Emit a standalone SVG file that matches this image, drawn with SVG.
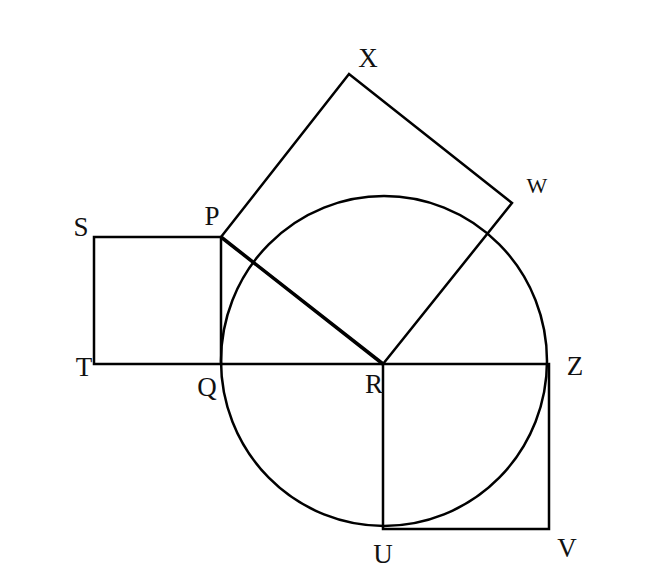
<svg xmlns="http://www.w3.org/2000/svg" width="653" height="579" viewBox="0 0 653 579">
<style>
.l{fill:none;stroke:#000;stroke-width:2.5;stroke-linejoin:miter}
.t{font-family:"Liberation Serif","Times New Roman",serif;font-size:27px;fill:#111;text-anchor:middle}
</style>
<rect width="653" height="579" fill="#fff"/>
<g id="circle"><ellipse class="l" cx="384" cy="361" rx="163" ry="165"/></g>
<g id="square-PQTS"><polygon class="l" points="94,237 221,237 221,364 94,364"/></g>
<g id="square-PRWX"><polygon class="l" points="221,237 349,74 512,203 383,364"/></g>
<g id="square-RZVU"><polygon class="l" points="383,364 549,364 549,529 383,529"/></g>
<g id="connectors">
<line class="l" x1="221" y1="364" x2="383" y2="364"/>
<line class="l" x1="221" y1="237" x2="383" y2="364" style="stroke-width:3.5"/>
</g>
<g id="labels">
<text class="t" x="81" y="236">S</text>
<text class="t" x="212" y="225">P</text>
<text class="t" x="84" y="376">T</text>
<text class="t" x="207" y="396">Q</text>
<text class="t" x="374" y="393">R</text>
<text class="t" x="575" y="375">Z</text>
<text class="t" x="368" y="67">X</text>
<text class="t" x="537" y="193" style="font-size:22px">W</text>
<text class="t" x="383" y="563">U</text>
<text class="t" x="567" y="557">V</text>
</g>
</svg>
